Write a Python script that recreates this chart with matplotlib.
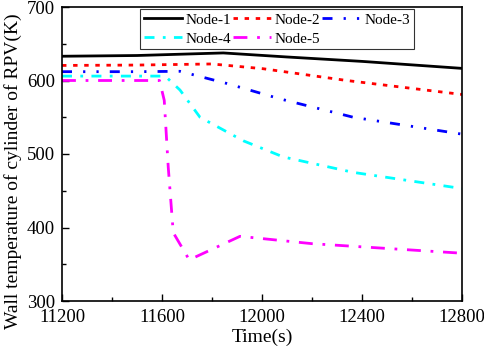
"""Wall temperature of RPV cylinder nodes over time."""
import matplotlib
matplotlib.use("Agg")
import matplotlib.pyplot as plt
from matplotlib.ticker import MultipleLocator

plt.rcParams["font.family"] = ["Liberation Serif", "DejaVu Serif"]

# Time (s) and temperature (K)
T1 = [11200, 11500, 11845, 12100, 12400, 12800]
NODE1 = [633, 634, 637.5, 632, 626, 616.5]

T2 = [11200, 11500, 11800, 12005, 12339, 12800]
NODE2 = [620.5, 621, 622.5, 616, 600, 581]

T3 = [11200, 11500, 11672, 11859, 12072, 12365, 12800]
NODE3 = [612, 612, 612.5, 596, 575, 550, 527]

T4 = [11200, 11500, 11600, 11619, 11672, 11752, 11925, 12085, 12365, 12800]
NODE4 = [606, 606, 606, 604, 587, 550, 518, 496, 475, 453]

T5 = [11200, 11500, 11590, 11609, 11625, 11645, 11709, 11912, 12200, 12800]
NODE5 = [600, 600, 600, 573, 482, 393, 356, 388, 378, 365]

LABELS = ["Node-1", "Node-2", "Node-3", "Node-4", "Node-5"]
COLORS = ["black", "red", "blue", "cyan", "magenta"]
# dash patterns in units of line width
DASHES = [
    None,
    (0, (1.6, 2.4)),
    (0, (3.6, 4.0, 0.8, 4.0, 0.8, 4.0)),
    (0, (3.6, 3.0, 1.0, 3.0)),
    (0, (5.0, 3.5, 1.0, 3.5)),
]


def main():
    fig = plt.figure(figsize=(4.84, 3.52), dpi=100)
    ax = fig.add_axes([62 / 484, 1 - 301 / 352, 400 / 484, 294 / 352])

    series = [(T1, NODE1), (T2, NODE2), (T3, NODE3), (T4, NODE4), (T5, NODE5)]
    lines = []
    for (t, y), lab, col, ds in zip(series, LABELS, COLORS, DASHES):
        kw = dict(color=col, lw=2.0, label=lab)
        if ds is None:
            ln, = ax.plot(t, y, ls="-", **kw)
        else:
            ln, = ax.plot(t, y, ls=ds, **kw)
        lines.append(ln)

    ax.set_xlim(11200, 12800)
    ax.set_ylim(300, 700)
    ax.xaxis.set_major_locator(MultipleLocator(400))
    ax.xaxis.set_minor_locator(MultipleLocator(200))
    ax.yaxis.set_major_locator(MultipleLocator(100))
    ax.yaxis.set_minor_locator(MultipleLocator(50))
    ax.tick_params(which="both", direction="in", labelsize=13.5,
                   top=False, right=False)
    ax.tick_params(axis="x", which="major", pad=6)
    ax.tick_params(axis="y", which="major", pad=5)
    ax.tick_params(which="major", length=5, width=1)
    ax.tick_params(which="minor", length=3, width=1)
    for s in ax.spines.values():
        s.set_linewidth(1.2)

    ax.set_xlabel("Time(s)", fontsize=14, labelpad=2)
    ax.set_ylabel("Wall temperature of cylinder of RPV(K)", fontsize=14)
    ax.yaxis.set_label_coords(-0.1, 0.44)

    # legend fills column-wise, reorder so rows read Node-1..3 / Node-4..5
    order = [0, 3, 1, 4, 2]
    leg = ax.legend([lines[i] for i in order], [LABELS[i] for i in order],
                    loc="upper left", bbox_to_anchor=(78 / 400, 0.993),
                    ncol=3, fontsize=11, frameon=True, fancybox=False,
                    edgecolor="black", handlelength=2.5, handletextpad=0.25,
                    columnspacing=0.1, borderpad=0.25, labelspacing=0.35,
                    borderaxespad=0)
    leg.get_frame().set_linewidth(0.8)

    fig.savefig("out.png", dpi=100)


if __name__ == "__main__":
    main()
